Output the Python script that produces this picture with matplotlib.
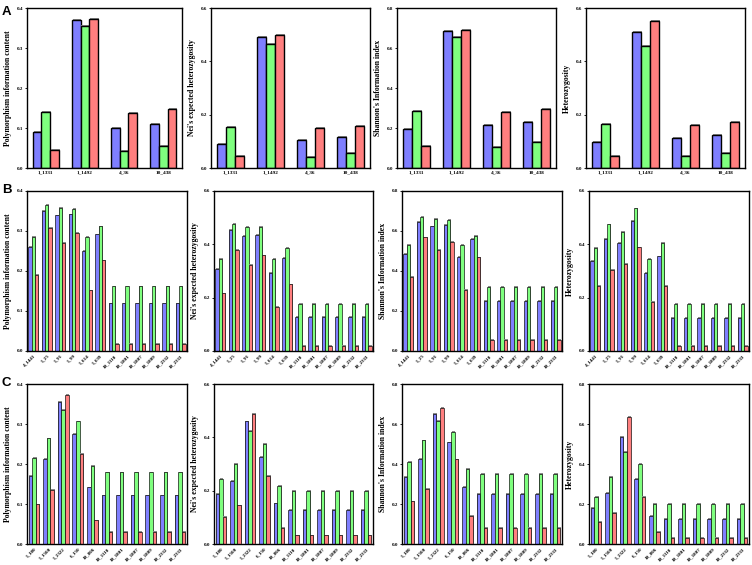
import matplotlib
matplotlib.use("Agg")
import matplotlib.pyplot as plt
import matplotlib.patheffects as pe
import numpy as np

# ---------------- data ----------------
cats_A = ["1_1331", "1_1492", "4_36", "10_438"]
cats_B = ["4_1441", "5_25", "5_91", "5_99", "5_614", "5_639",
          "10_1110", "10_1801", "10_1807", "10_1809", "10_2332", "10_2333"]
cats_C = ["5_180", "5_1500", "5_2322", "6_150", "10_806",
          "10_1110", "10_1801", "10_1807", "10_1809", "10_2332", "10_2333"]

ylabels = ["Polymorphism information content", "Nei's expected heterozygosity",
           "Shannon's Information index", "Heterozygosity"]

# Row A  (blue, green, red)
A_pic_b = [0.089, 0.369, 0.099, 0.110]
A_pic_g = [0.141, 0.355, 0.042, 0.056]
A_pic_r = [0.044, 0.373, 0.138, 0.147]
A_nei_b = [0.091, 0.490, 0.104, 0.116]
A_nei_g = [0.153, 0.465, 0.041, 0.056]
A_nei_r = [0.044, 0.500, 0.149, 0.159]
A_sha_b = [0.195, 0.683, 0.213, 0.232]
A_sha_g = [0.285, 0.657, 0.107, 0.132]
A_sha_r = [0.108, 0.690, 0.280, 0.295]
A_het_b = [0.098, 0.511, 0.111, 0.124]
A_het_g = [0.166, 0.459, 0.044, 0.058]
A_het_r = [0.045, 0.551, 0.161, 0.173]

# Row B
B_pic_b = [0.260, 0.351, 0.339, 0.342, 0.250, 0.292] + [0.119] * 6
B_pic_g = [0.285, 0.365, 0.358, 0.356, 0.285, 0.312] + [0.162] * 6
B_pic_r = [0.190, 0.308, 0.271, 0.295, 0.152, 0.227] + [0.018] * 6
B_nei_b = [0.308, 0.455, 0.433, 0.436, 0.294, 0.349] + [0.129] * 6
B_nei_g = [0.346, 0.478, 0.466, 0.465, 0.346, 0.388] + [0.178] * 6
B_nei_r = [0.216, 0.380, 0.324, 0.359, 0.166, 0.250] + [0.020] * 6
B_sha_b = [0.485, 0.647, 0.623, 0.630, 0.472, 0.562] + [0.252] * 6
B_sha_g = [0.530, 0.672, 0.662, 0.657, 0.530, 0.575] + [0.320] * 6
B_sha_r = [0.372, 0.568, 0.507, 0.547, 0.307, 0.468] + [0.057] * 6
B_het_b = [0.339, 0.421, 0.406, 0.488, 0.294, 0.355] + [0.125] * 6
B_het_g = [0.388, 0.475, 0.446, 0.535, 0.346, 0.406] + [0.178] * 6
B_het_r = [0.245, 0.305, 0.328, 0.389, 0.184, 0.245] + [0.020] * 6

# Row C
C_pic_b = [0.170, 0.213, 0.356, 0.275, 0.142] + [0.122] * 6
C_pic_g = [0.216, 0.264, 0.336, 0.307, 0.195] + [0.179] * 6
C_pic_r = [0.099, 0.136, 0.373, 0.225, 0.059] + [0.030] * 6
C_nei_b = [0.188, 0.238, 0.460, 0.326, 0.153] + [0.129] * 6
C_nei_g = [0.245, 0.300, 0.425, 0.375, 0.219] + [0.200] * 6
C_nei_r = [0.103, 0.145, 0.489, 0.256, 0.061] + [0.033] * 6
C_sha_b = [0.335, 0.425, 0.652, 0.508, 0.287] + [0.252] * 6
C_sha_g = [0.412, 0.518, 0.617, 0.562, 0.377] + [0.350] * 6
C_sha_r = [0.213, 0.277, 0.682, 0.423, 0.140] + [0.082] * 6
C_het_b = [0.180, 0.257, 0.537, 0.327, 0.140] + [0.125] * 6
C_het_g = [0.237, 0.337, 0.462, 0.400, 0.200] + [0.200] * 6
C_het_r = [0.110, 0.157, 0.635, 0.237, 0.062] + [0.030] * 6

ymax_A = [0.4, 0.6, 0.8, 0.6]
ymax_B = [0.4, 0.6, 0.8, 0.6]
ymax_C = [0.4, 0.6, 0.8, 0.8]

# ---------------- style ----------------
COLORS = ["#7f7fff", "#7fff7f", "#ff7f7f"]
SERIF = ["Liberation Serif", "DejaVu Serif"]
W, H = 752, 565
fig = plt.figure(figsize=(W / 100, H / 100), dpi=100)


def make_ax(px_left, px_top, px_w, px_h):
    return fig.add_axes([px_left / W, 1 - (px_top + px_h) / H, px_w / W, px_h / H])


def draw(ax, cats, series, ymax, ylabel, width, rotate, lw, sh):
    shadow = [pe.SimplePatchShadow(offset=(sh, sh), shadow_rgbFace="#8a8a8a", alpha=1.0),
              pe.Normal()]
    x = np.arange(len(cats))
    offs = [-width, 0, width]
    for vals, col, o in zip(series, COLORS, offs):
        bars = ax.bar(x + o, vals, width=width, color=col, edgecolor="black",
                      linewidth=lw, zorder=2)
        for b in bars:
            b.set_path_effects(shadow)
    n = len(cats)
    ax.set_xlim(-0.48, n - 0.52)
    ax.set_ylim(0, ymax)
    step = 0.1 if ymax <= 0.4 else 0.2
    ticks = np.round(np.arange(0, ymax + 1e-9, step), 2)
    ax.set_yticks(ticks)
    ax.set_yticklabels([f"{t:.1f}" for t in ticks], fontfamily=SERIF,
                       fontweight="bold", fontsize=3.6)
    ax.set_xticks(x)
    if rotate:
        ax.set_xticklabels(cats, rotation=45, ha="right", rotation_mode="anchor",
                           fontfamily=SERIF, fontweight="bold", fontsize=3.6)
    else:
        ax.set_xticklabels(cats, fontfamily=SERIF, fontweight="bold", fontsize=3.8)
    ax.tick_params(axis="x", direction="in", length=2, width=0.8, pad=2)
    ax.tick_params(axis="y", direction="out", length=1.5, width=0.6, pad=1.5)
    for s in ax.spines.values():
        s.set_linewidth(1.0)
    ax.set_ylabel(ylabel, fontfamily=SERIF, fontweight="bold", fontsize=5.6, labelpad=3)


rows = [
    (cats_A, [(A_pic_b, A_pic_g, A_pic_r), (A_nei_b, A_nei_g, A_nei_r),
              (A_sha_b, A_sha_g, A_sha_r), (A_het_b, A_het_g, A_het_r)], ymax_A),
    (cats_B, [(B_pic_b, B_pic_g, B_pic_r), (B_nei_b, B_nei_g, B_nei_r),
              (B_sha_b, B_sha_g, B_sha_r), (B_het_b, B_het_g, B_het_r)], ymax_B),
    (cats_C, [(C_pic_b, C_pic_g, C_pic_r), (C_nei_b, C_nei_g, C_nei_r),
              (C_sha_b, C_sha_g, C_sha_r), (C_het_b, C_het_g, C_het_r)], ymax_C),
]

row_tops = [8, 191, 384]
row_h = 160
lefts_A = [27, 211, 397, 586]
widths_A = [155, 159, 159, 159]
lefts_BC = [27, 214, 402, 589]
widths_BC = [160, 159, 160, 160]

for r, (cats, series_list, ymaxs) in enumerate(rows):
    lefts = lefts_A if r == 0 else lefts_BC
    widths = widths_A if r == 0 else widths_BC
    for c in range(4):
        ax = make_ax(lefts[c], row_tops[r], widths[c], row_h)
        if r == 0:
            draw(ax, cats, series_list[c], ymaxs[c], ylabels[c], 0.225, False, 1.0, 0.7)
        else:
            draw(ax, cats, series_list[c], ymaxs[c], ylabels[c], 0.25, True, 0.45, 0.5)

for lab, ypx in zip(["A", "B", "C"], [12, 190, 383]):
    fig.text(2 / W, 1 - ypx / H, lab, fontsize=9.5, fontweight="bold",
             fontfamily=["Liberation Sans", "DejaVu Sans"], va="center", ha="left")

fig.savefig("out.png", dpi=100)
